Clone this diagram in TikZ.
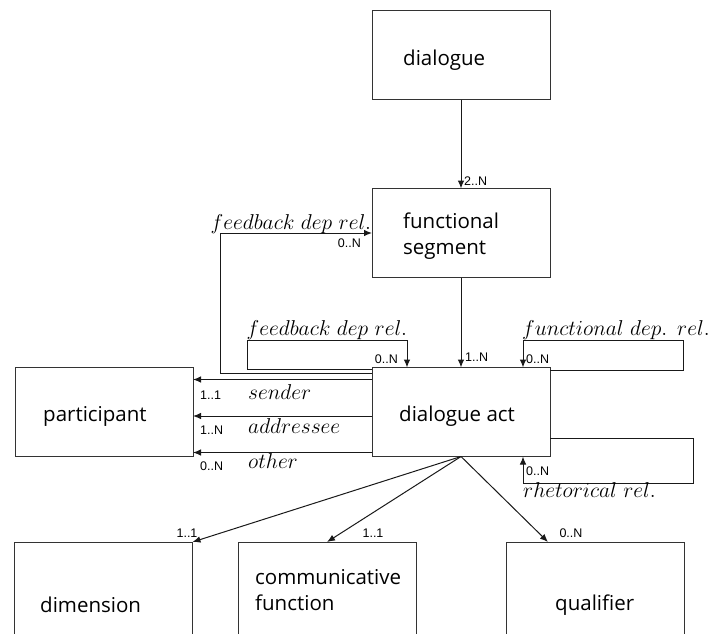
\RequirePackage{fix-cm}
\documentclass[tikz,border=0pt]{standalone}
\usepackage{fontspec}
\newfontfamily\boxfont{Open Sans}
\newfontfamily\cardfont{Liberation Sans}
\usetikzlibrary{arrows.meta}
\tikzset{
  x=1pt, y=-1pt,
  entity/.style={draw=black!80, line width=1pt, minimum width=178pt,
    minimum height=89pt, inner sep=0pt, outer sep=0pt},
  etext/.style={font=\boxfont\fontsize{20.5}{26}\selectfont, anchor=west,
    align=left, inner sep=0pt},
  card/.style={font=\cardfont\fontsize{12.5}{14}\selectfont, inner sep=0pt},
  role/.style={font=\fontsize{21.5}{25}\selectfont, inner sep=0pt, anchor=base},
  link/.style={draw=black!90, line width=1pt, -{Latex[length=8pt,width=6.5pt]}},
}
\begin{document}
\begin{tikzpicture}
\useasboundingbox (0,0) rectangle (712,633);

% entities
\node[entity] (dlg)  at (461,55)    {};
\node[entity] (fseg) at (461,233)   {};
\node[entity] (dact) at (461,412)   {};
\node[entity] (part) at (104,411.5) {};
\node[entity, minimum height=98pt] (dim)  at (103.5,591) {};
\node[entity, minimum height=98pt] (cf)   at (327,591)   {};
\node[entity, minimum height=98pt] (qual) at (595.5,591) {};

% entity names
\node[etext] (t-dlg)  at (403,60)  {dialogue};
\node[etext] (t-fseg) at (403,236) {functional\\segment};
\node[etext] (t-dact) at (399,416) {dialogue act};
\node[etext] (t-part) at (43,416)  {participant};
\node[etext] (t-dim)  at (40,605)  {dimension};
\node[etext] (t-cf)   at (255,590) {communicative\\function};
\node[etext] (t-qual) at (555,605) {qualifier};

% composition
\draw[link] (dlg.south) -- (fseg.north);
\draw[link] (fseg.south) -- (dact.north);

% feedback dependence to functional segment
\draw[link] ([yshift=-6pt]dact.north west) -- ++(-152,0) |- (fseg.west);
% feedback dependence between dialogue acts
\draw[link] ([yshift=-2pt]dact.north west) -- ++(-125,0) -- ++(0,-29)
  -| ([xshift=35pt]dact.north west);
% functional dependence
\draw[link] ([yshift=-3pt]dact.north east) -- ++(133,0) -- ++(0,-30)
  -| ([xshift=-27pt]dact.north east);
% rhetorical relation
\draw[link] ([yshift=18pt]dact.south east) -- ++(143,0) -- ++(0,45)
  -| ([xshift=-27pt]dact.south east);

% participant roles
\path ([yshift=-12pt]dact.north west) coordinate (s1)
      ([yshift=-4pt]dact.west) coordinate (s2)
      ([yshift=4pt]dact.south west) coordinate (s3);
\draw[link] (s1) -- (s1 -| part.east);
\draw[link] (s2) -- (s2 -| part.east);
\draw[link] (s3) -- (s3 -| part.east);

% attributes
\draw[link] (dact.south) -- (dim.north east);
\draw[link] (dact.south) -- (cf.north);
\draw[link] (dact.south) -- ([xshift=-47.5pt]qual.north);

% cardinalities
\node[card, anchor=west] (c1)  at (464,181) {2..N};
\node[card, anchor=east] (c2)  at (361,243) {0..N};
\node[card, anchor=east] (c3)  at (398,359) {0..N};
\node[card, anchor=west] (c4)  at (465,357) {1..N};
\node[card, anchor=west] (c5)  at (526,359) {0..N};
\node[card, anchor=west] (c6)  at (526,471) {0..N};
\node[card, anchor=west] (c7)  at (200,395) {1..1};
\node[card, anchor=west] (c8)  at (200,430) {1..N};
\node[card, anchor=west] (c9)  at (200,466) {0..N};
\node[card] (c10) at (187,533) {1..1};
\node[card] (c11) at (373,533) {1..1};
\node[card] (c12) at (571,533) {0..N};

% relation names
\node[role] (r1) at (291,229) {$feedback\ dep\ rel.$};
\node[role] (r2) at (327,335) {$feedback\ dep\ rel.$};
\node[role, anchor=base east] (r3) at (710,335) {$functional\ dep.\ \,rel.$};
\node[role, anchor=base west] (r4) at (523,497) {$rhetorical\ rel.$};
\node[role, anchor=base west] (r5) at (248,399) {$sender$};
\node[role, anchor=base west] (r6) at (248,433) {$addressee$};
\node[role, anchor=base west] (r7) at (248,468) {$other$};
\end{tikzpicture}
\end{document}
